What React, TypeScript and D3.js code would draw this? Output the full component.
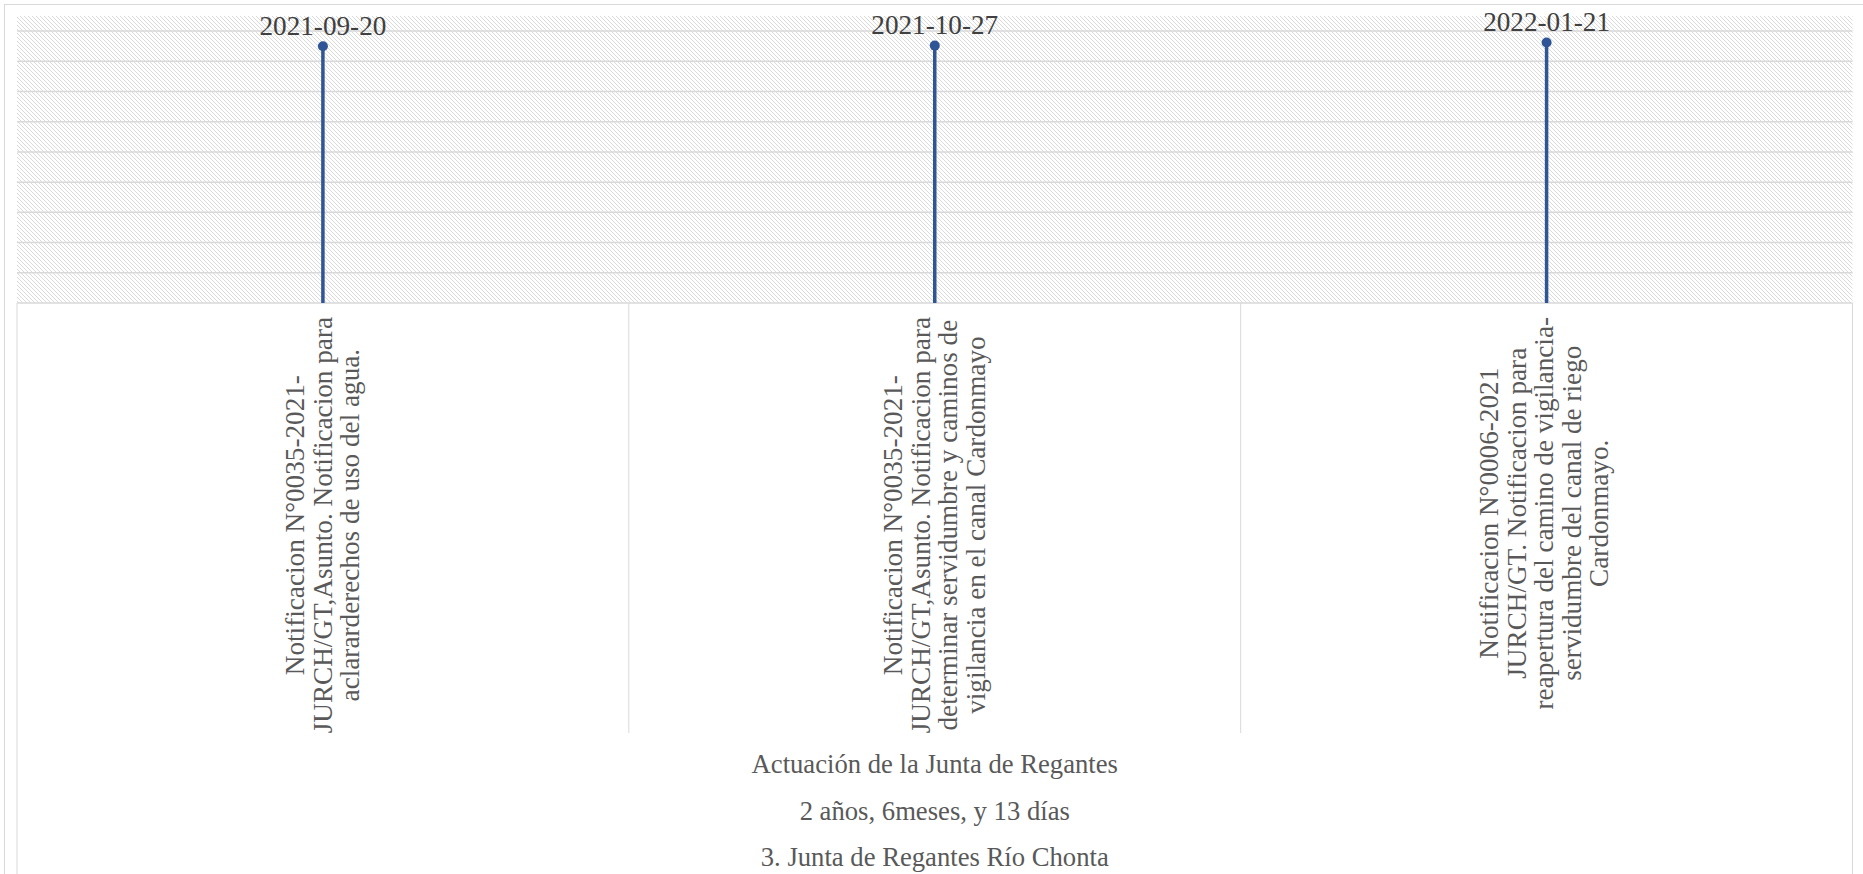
import React from "react";
import * as d3 from "d3";

// ---- data ----
const categoryIds = ["c1", "c2", "c3"];
const categoryLines: string[][] = [
  ["Notificacion N°0035-2021-", "JURCH/GT,Asunto. Notificacion para", "aclararderechos de uso del agua."],
  [
    "Notificacion N°0035-2021-",
    "JURCH/GT,Asunto. Notificacion para",
    "determinar servidumbre y caminos de",
    "vigilancia en el canal Cardonmayo",
  ],
  [
    "Notificacion N°0006-2021",
    "JURCH/GT. Notificacion para",
    "reapertura del camino de vigilancia-",
    "servidumbre del canal de riego",
    "Cardonmayo.",
  ],
];
const dateLabels = ["2021-09-20", "2021-10-27", "2022-01-21"];
const values = [8.5, 8.52, 8.62];
const yTicks = [1, 2, 3, 4, 5, 6, 7, 8, 9];
const yMax = 9.5;
const groupLabels = [
  "Actuación de la Junta de Regantes",
  "2 años, 6meses, y 13 días",
  "3. Junta de Regantes Río Chonta",
];

// ---- layout ----
const W = 1863;
const H = 874;
const plot = { left: 17, right: 1852.5, top: 16, bottom: 303 };
const FONT = "'Liberation Serif', 'Times New Roman', serif";
const FS = 26.67;
const FS_LABEL = 27.2;
const LINE_H = 27.6;
const STEM = "#2F5597";
const GRID = "#d9d9d9";

let measureCtx: CanvasRenderingContext2D | null = null;
function measure(text: string): number {
  if (!measureCtx) {
    const c = document.createElement("canvas");
    measureCtx = c.getContext("2d");
  }
  if (!measureCtx) return text.length * FS_LABEL * 0.45;
  measureCtx.font = `${FS_LABEL}px "Liberation Serif"`;
  return measureCtx.measureText(text).width;
}

export default function App() {
  const x = d3.scaleBand<string>().domain(categoryIds).range([plot.left, plot.right]).padding(0);
  const y = d3.scaleLinear().domain([0, yMax]).range([plot.bottom, plot.top]);
  const bw = x.bandwidth();
  const labelTop = plot.bottom + 14;
  const catBottom = 733;
  const midX = (plot.left + plot.right) / 2;

  return (
    <svg
      width={W}
      height={H}
      style={{ position: "absolute", left: 0, top: 0, background: "#fff" }}
      fontFamily={FONT}
    >
      <defs>
        <pattern id="hatch" width={4} height={4} patternUnits="userSpaceOnUse">
          <rect width={4} height={4} fill="#ffffff" />
          <path d="M-1,-1 L5,5 M-1,3 L1,5 M3,-1 L5,1" stroke="#dadada" strokeWidth={1} />
        </pattern>
      </defs>
      {/* chart border */}
      <rect x={4.5} y={4.5} width={W + 10} height={H + 10} fill="none" stroke={GRID} strokeWidth={1} />

      {/* plot area */}
      <rect
        x={plot.left}
        y={plot.top}
        width={plot.right - plot.left}
        height={plot.bottom - plot.top}
        fill="url(#hatch)"
      />
      {yTicks.map((t) => (
        <line key={t} x1={plot.left} x2={plot.right} y1={y(t)} y2={y(t)} stroke={GRID} strokeWidth={1.5} />
      ))}
      <line x1={plot.left} x2={plot.right} y1={plot.bottom} y2={plot.bottom} stroke={GRID} strokeWidth={1.5} />

      {/* multi-level category axis lines */}
      {categoryIds.map((c, i) =>
        i === 0 ? null : (
          <line key={c} x1={x(c)} x2={x(c)} y1={plot.bottom} y2={catBottom} stroke={GRID} strokeWidth={1} />
        )
      )}
      <line x1={plot.left} x2={plot.left} y1={plot.bottom} y2={H} stroke={GRID} strokeWidth={1} />
      <line x1={plot.right} x2={plot.right} y1={plot.bottom} y2={H} stroke={GRID} strokeWidth={1} />

      {/* stems */}
      {categoryIds.map((c, i) => {
        const cx = (x(c) as number) + bw / 2;
        const cy = y(values[i]);
        return (
          <g key={c}>
            <line x1={cx} x2={cx} y1={y(0)} y2={cy} stroke={STEM} strokeWidth={3.5} />
            <circle cx={cx} cy={cy} r={5} fill={STEM} />
            <text x={cx} y={cy - 11.5} textAnchor="middle" fontSize={FS_LABEL} fill="#404040">
              {dateLabels[i]}
            </text>
          </g>
        );
      })}

      {/* rotated category labels */}
      {categoryIds.map((c, i) => {
        const lines = categoryLines[i];
        const cx = (x(c) as number) + bw / 2 - (i === 2 ? 2 : 0);
        const maxLen = d3.max(lines, (l) => measure(l)) as number;
        const cy = labelTop + maxLen / 2;
        const n = lines.length;
        return (
          <text
            key={c}
            transform={`translate(${cx},${cy}) rotate(-90)`}
            textAnchor="middle"
            fontSize={FS_LABEL}
            fill="#595959"
          >
            {lines.map((l, j) => (
              <tspan key={j} x={0} y={(j - (n - 1) / 2) * LINE_H + FS_LABEL * 0.32}>
                {l}
              </tspan>
            ))}
          </text>
        );
      })}

      {/* group labels */}
      {groupLabels.map((g, i) => (
        <text key={g} x={midX} y={773 + i * 46.5} textAnchor="middle" fontSize={FS} fill="#595959">
          {g}
        </text>
      ))}
    </svg>
  );
}
